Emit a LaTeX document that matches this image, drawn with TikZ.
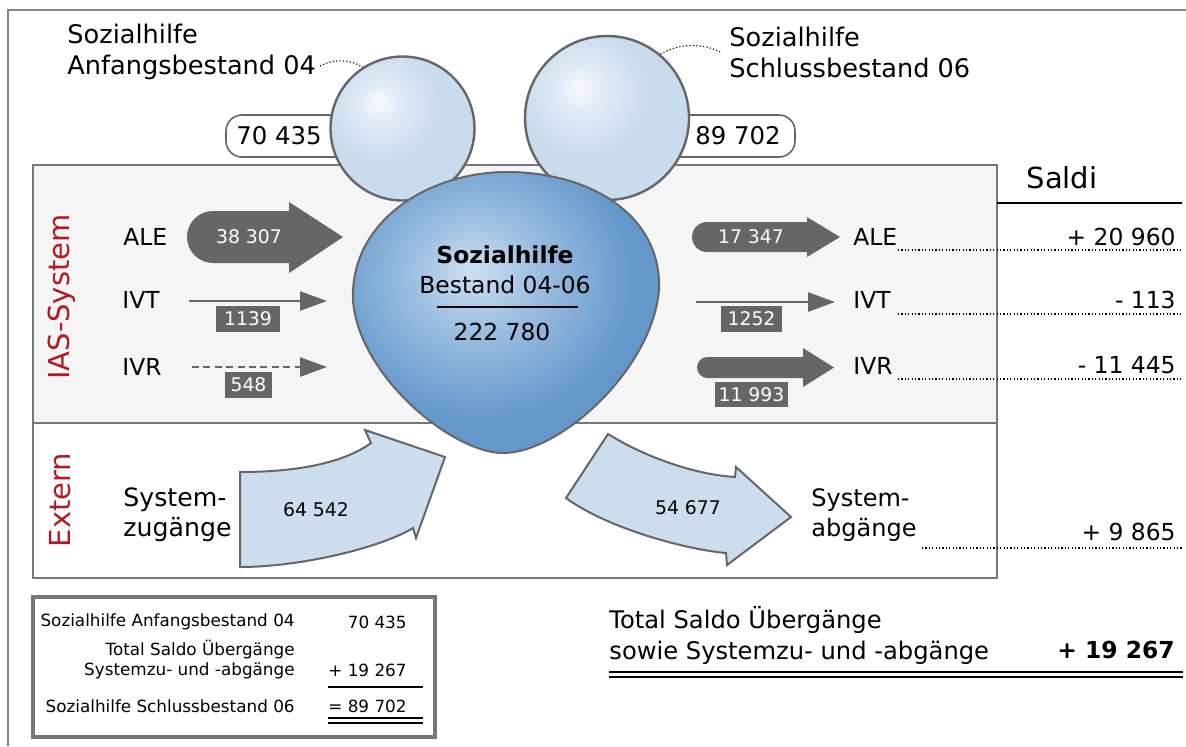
\documentclass[tikz,border=0pt]{standalone}
\usepackage{fontspec}
\setmainfont{DejaVu Sans}
\usepackage{tikz}
\usetikzlibrary{shapes,arrows,arrows.meta}

\definecolor{framegray}{HTML}{858585}
\definecolor{boxgray}{HTML}{777777}
\definecolor{flowgray}{HTML}{666666}
\definecolor{iasfill}{HTML}{F5F5F5}
\definecolor{iasred}{HTML}{B31B22}
\definecolor{ballin}{HTML}{F6F9FC}
\definecolor{ballmid}{HTML}{E0EAF5}
\definecolor{ballout}{HTML}{C9DCEE}
\definecolor{blobin}{HTML}{CADDF0}
\definecolor{blobmid}{HTML}{9DBFE1}
\definecolor{blobout}{HTML}{6498CB}
\definecolor{extfill}{HTML}{CCDDEE}

\pgfdeclareradialshading{ballshade}{\pgfpoint{-8.5bp}{9.5bp}}{color(0bp)=(ballin); color(1bp)=(ballin); color(7bp)=(ballmid); color(19bp)=(ballout); color(100bp)=(ballout)}
\pgfdeclareradialshading{blobshade}{\pgfpoint{-5.5bp}{7.5bp}}{color(0bp)=(blobin); color(1bp)=(blobin); color(10bp)=(blobmid); color(25bp)=(blobout); color(100bp)=(blobout)}

\newcommand{\lblsize}{\fontsize{11.7}{15.5}\selectfont}
\newcommand{\toplblsize}{\fontsize{12.8}{15.5}\selectfont}
\newcommand{\numsize}{\fontsize{9.4}{11}\selectfont}
\newcommand{\sumsize}{\fontsize{8.4}{10}\selectfont}
\newcommand{\headsize}{\fontsize{14.5}{17}\selectfont}

\begin{document}
\begin{tikzpicture}[x=0.5pt, y=-0.5pt,
  lbl/.style={inner sep=0pt, font=\lblsize},
  flownum/.style={inner sep=0pt, text=white, fill=flowgray, font=\numsize, minimum height=13pt},
  ball/.style={circle, draw=flowgray, line width=1.2pt, shading=ballshade, inner sep=0pt},
  pill/.style={draw=flowgray, line width=0.8pt, fill=white, rounded corners=8pt},
  thinflow/.style={draw=flowgray, line width=1.4pt, -{Triangle[length=13.5pt,width=9.5pt]}},
  extflow/.style={draw=flowgray, line width=1pt, fill=extfill},
  leader/.style={line width=0.55pt, dash pattern=on 0.6pt off 1.1pt},
  rule/.style={line width=0.8pt}]
  \useasboundingbox (0,0) rectangle (1186,746);

  % Frame
  \draw[framegray, line width=1pt] (8,746) -- (8,10) -- (1186,10);

  % Stock pills
  \draw[pill] (226,115) rectangle (365,157);
  \draw[pill] (660,115) rectangle (795,157);
  \node[lbl, font=\fontsize{12.2}{14}\selectfont] (startNum) at (279,136) {70 435};
  \node[lbl, font=\fontsize{12.2}{14}\selectfont] (endNum) at (738,136) {89 702};

  % Boxes
  \draw[boxgray, line width=1pt, fill=iasfill] (33,165) rectangle (997,423);
  \draw[boxgray, line width=1pt, fill=white] (33,423) rectangle (997,578);
  \node[lbl, rotate=90, font=\headsize, text=iasred] (iasLbl) at (62,297) {IAS-System};
  \node[lbl, rotate=90, font=\headsize, text=iasred] (extLbl) at (60,500) {Extern};

  % Stocks
  \node[ball, minimum size=72pt] (startBall) at (402.5,128.5) {};
  \node[ball, minimum size=82pt] (endBall) at (607,118) {};
  \node[lbl, font=\toplblsize, anchor=west, align=left] (startLbl) at (67,52) {Sozialhilfe\\Anfangsbestand 04};
  \node[lbl, font=\toplblsize, anchor=west, align=left] (endLbl) at (729,52) {Sozialhilfe\\Schlussbestand 06};
  \draw[leader] (320,66) .. controls (335,58) and (352,60) .. (startBall.123);
  \draw[leader] (endBall.50) .. controls (680,42) and (705,44) .. (720,52);

  % Sozialhilfe 04-06
  \draw[flowgray, line width=1pt, shading=blobshade] (353,300) .. controls (350,220) and (430,172) .. (507,172)
    .. controls (590,172) and (662,215) .. (659,290) .. controls (652,370) and (560,453) .. (503,453)
    .. controls (452,453) and (358,375) .. cycle;
  \node[lbl, font=\lblsize\bfseries] (blobTitle) at (505,255) {Sozialhilfe};
  \node[lbl] (blobSub) at (505,285) {Bestand 04-06};
  \draw[rule] (437,307) -- (578,307);
  \node[lbl] (blobNum) at (502,332) {222 780};

  % Inflows
  \node[lbl, anchor=west] (aleInLbl) at (123,237) {ALE};
  \node[lbl, anchor=west] (ivtInLbl) at (122,300) {IVT};
  \node[lbl, anchor=west] (ivrInLbl) at (122,367) {IVR};
  \fill[flowgray] (213,211) -- (289,211) -- (289,202) -- (343,237) -- (289,273) -- (289,263) -- (213,263)
    arc[start angle=270, end angle=90, radius=13pt] -- cycle;
  \node[inner sep=0pt, font=\numsize, text=white] (aleIn) at (249,237) {38 307};
  \draw[thinflow] (189,301) -- (327,301);
  \node[flownum, minimum width=32pt] (ivtIn) at (248,319) {1139};
  \draw[thinflow, dash pattern=on 3.5pt off 2.2pt] (192,367) -- (327,367);
  \node[flownum, minimum width=23.5pt] (ivrIn) at (248.5,385) {548};

  % Outflows
  \fill[flowgray] (707,222) -- (807,222) -- (807,217) -- (840,237) -- (807,257) -- (807,252) -- (707,252)
    arc[start angle=270, end angle=90, radius=7.5pt] -- cycle;
  \node[inner sep=0pt, font=\numsize, text=white] (aleOut) at (751,237) {17 347};
  \draw[thinflow] (696,302) -- (835,302);
  \node[flownum, minimum width=30.5pt] (ivtOut) at (751.5,319) {1252};
  \fill[flowgray] (707.5,357) -- (803,357) -- (803,348) -- (834,367.5) -- (803,387) -- (803,378) -- (707.5,378)
    arc[start angle=270, end angle=90, radius=5.25pt] -- cycle;
  \node[flownum, minimum width=36.5pt, minimum height=12.5pt] (ivrOut) at (751.5,394.5) {11 993};
  \node[lbl, anchor=west] (aleOutLbl) at (853,237) {ALE};
  \node[lbl, anchor=west] (ivtOutLbl) at (853,300) {IVT};
  \node[lbl, anchor=west] (ivrOutLbl) at (853,366) {IVR};

  % Extern
  \draw[extflow] (240,472) .. controls (300,472) and (345,462) .. (371,443) -- (365,430) -- (445,457) -- (416,538)
    -- (413,528) .. controls (380,548) and (300,567) .. (240,567) -- cycle;
  \node[inner sep=0pt, font=\numsize] (zuNum) at (316,510) {64 542};
  \node[lbl, font=\fontsize{12.6}{15}\selectfont, anchor=west, align=left] (zuLbl) at (123,515) {System-\\zugänge};
  \draw[extflow] (608,434) .. controls (650,460) and (700,475) .. (735,477) -- (736,467) -- (791,517) -- (727,565)
    -- (726,553) .. controls (690,550) and (610,530) .. (566,498) -- cycle;
  \node[inner sep=0pt, font=\numsize] (abNum) at (688,508) {54 677};
  \node[lbl, font=\fontsize{12}{15}\selectfont, anchor=west, align=left] (abLbl) at (811,515) {System-\\abgänge};

  % Saldi
  \node[lbl, font=\headsize] (saldiHead) at (1062,178) {Saldi};
  \draw[rule] (997,203) -- (1182,203);
  \node[lbl, anchor=east] (aleSaldo) at (1176,237) {+ 20 960};
  \node[lbl, anchor=east] (ivtSaldo) at (1176,300) {- 113};
  \node[lbl, anchor=east] (ivrSaldo) at (1176,365) {- 11 445};
  \node[lbl, anchor=east] (extSaldo) at (1176,532) {+ 9 865};
  \draw[leader] (898,250) -- (1183,250);
  \draw[leader] (898,314) -- (1183,314);
  \draw[leader] (898,379) -- (1183,379);
  \draw[leader] (922,548) -- (1183,548);

  % Summary box
  \draw[boxgray, line width=1.6pt] (33,597) rectangle (435,737);
  \node[inner sep=0pt, font=\sumsize, anchor=east] (sumStart) at (295,622) {Sozialhilfe Anfangsbestand 04};
  \node[inner sep=0pt, font=\sumsize, anchor=east, align=right] (sumSaldo) at (295,660) {Total Saldo Übergänge\\Systemzu- und -abgänge};
  \node[inner sep=0pt, font=\sumsize, anchor=east] (sumEnd) at (295,706) {Sozialhilfe Schlussbestand 06};
  \node[inner sep=0pt, font=\sumsize, anchor=east] (sumStartVal) at (407,622) {70 435};
  \node[inner sep=0pt, font=\sumsize, anchor=east] (sumSaldoVal) at (407,670) {+ 19 267};
  \node[inner sep=0pt, font=\sumsize, anchor=east] (sumEndVal) at (407,706) {= 89 702};
  \draw[line width=0.6pt] (328,687) -- (423,687);
  \draw[line width=0.6pt] (328,718) -- (423,718);
  \draw[line width=0.6pt] (328,723) -- (423,723);

  % Total
  \node[lbl, font=\fontsize{12.1}{15.5}\selectfont, anchor=west, align=left] (totalLbl) at (609,635) {Total Saldo Übergänge\\sowie Systemzu- und -abgänge};
  \node[lbl, anchor=east, font=\lblsize\bfseries] (totalVal) at (1175,650) {+ 19 267};
  \draw[rule] (609,672) -- (1183,672);
  \draw[rule] (609,677) -- (1183,677);
\end{tikzpicture}
\end{document}
